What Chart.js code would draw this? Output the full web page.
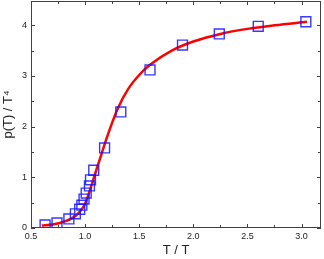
<!DOCTYPE html>
<html>
<head>
<meta charset="utf-8">
<script src="https://cdn.jsdelivr.net/npm/chart.js@4"></script>
<style>
  html, body { margin: 0; padding: 0; background: #fff; }
  #wrap { width: 324px; height: 259px; }
</style>
</head>
<body>
<div id="wrap"><canvas id="chart" width="324" height="259"></canvas></div>
<script>
// lattice points (squares)
const pointT = [0.63, 0.74, 0.85, 0.91, 0.95, 0.97, 0.99, 1.01, 1.04, 1.05, 1.08, 1.18, 1.33, 1.60, 1.90, 2.24, 2.60, 3.04];
const pointP = [0.06, 0.10, 0.18, 0.28, 0.37, 0.45, 0.57, 0.69, 0.83, 0.95, 1.14, 1.58, 2.29, 3.12, 3.61, 3.83, 3.98, 4.07];

// fitted curve (red)
const curveT = [0.6, 0.7, 0.8, 0.9, 0.95, 1.0, 1.05, 1.1, 1.15, 1.2, 1.3, 1.4, 1.5, 1.6, 1.8, 2.0, 2.25, 2.5, 2.75, 3.05];
const curveP = [0.05, 0.07, 0.12, 0.22, 0.32, 0.48, 0.78, 1.12, 1.45, 1.78, 2.35, 2.75, 3.02, 3.22, 3.5, 3.68, 3.83, 3.93, 4.0, 4.07];

const xMajor = [0.5, 1.0, 1.5, 2.0, 2.5, 3.0];
const xMinor = [0.75, 1.25, 1.75, 2.25, 2.75];
const yMajor = [0, 1, 2, 3, 4];
const yMinor = [0.5, 1.5, 2.5, 3.5];

// frame + inward ticks on all four sides
const frameTicks = {
  id: "frameTicks",
  afterDraw(chart) {
    const { ctx, chartArea: a, scales } = chart;
    const x = scales.x, y = scales.y;
    ctx.save();
    ctx.strokeStyle = "#404040";
    ctx.lineWidth = 1;
    ctx.strokeRect(a.left + 0.5, a.top + 0.5, a.right - a.left - 1, a.bottom - a.top - 1);
    ctx.beginPath();
    const xt = (v, len) => {
      const px = Math.round(x.getPixelForValue(v)) + 0.5;
      ctx.moveTo(px, a.bottom); ctx.lineTo(px, a.bottom - len);
      ctx.moveTo(px, a.top); ctx.lineTo(px, a.top + len);
    };
    const yt = (v, len) => {
      const py = Math.round(y.getPixelForValue(v)) + 0.5;
      ctx.moveTo(a.left, py); ctx.lineTo(a.left + len, py);
      ctx.moveTo(a.right, py); ctx.lineTo(a.right - len, py);
    };
    xMajor.forEach((v) => xt(v, 4));
    xMinor.forEach((v) => xt(v, 3));
    yMajor.forEach((v) => yt(v, 4));
    yMinor.forEach((v) => yt(v, 3));
    ctx.stroke();
    ctx.restore();
  },
};

Chart.defaults.font.family = "'Liberation Sans', Arial, sans-serif";
Chart.defaults.color = "#222";

new Chart(document.getElementById("chart"), {
  type: "scatter",
  data: {
    datasets: [
      {
        label: "fit",
        type: "line",
        data: curveT.map((t, i) => ({ x: t, y: curveP[i] })),
        borderColor: "rgb(255, 0, 0)",
        borderWidth: 2.5,
        pointRadius: 0,
        cubicInterpolationMode: "monotone",
        fill: false,
        order: 2,
      },
      {
        label: "lattice",
        data: pointT.map((t, i) => ({ x: t, y: pointP[i] })),
        pointStyle: "rect",
        pointRadius: 7,
        pointBorderWidth: 1.4,
        pointBorderColor: "rgba(20, 20, 255, 0.85)",
        pointBackgroundColor: "rgba(0, 0, 0, 0)",
        order: 1,
      },
    ],
  },
  options: {
    responsive: false,
    animation: false,
    layout: { autoPadding: false, padding: { left: 0, right: 3, top: 1, bottom: 0 } },
    plugins: {
      legend: { display: false },
      tooltip: { enabled: false },
    },
    scales: {
      x: {
        type: "linear",
        min: 0.5,
        max: 3.18,
        afterBuildTicks: (s) => { s.ticks = xMajor.map((v) => ({ value: v })); },
        afterFit: (s) => { s.height = 31; s.paddingLeft = 0; s.paddingRight = 0; },
        grid: { display: false, drawTicks: false },
        border: { display: false },
        ticks: {
          padding: 3,
          font: { size: 9 },
          callback: (v) => v.toFixed(1),
        },
        title: {
          display: true,
          text: "T / T",
          font: { size: 13 },
          padding: { top: 0, bottom: 1 },
        },
      },
      y: {
        type: "linear",
        min: 0,
        max: 4.48,
        afterBuildTicks: (s) => { s.ticks = yMajor.map((v) => ({ value: v })); },
        afterFit: (s) => { s.width = 31; s.paddingTop = 0; s.paddingBottom = 0; },
        grid: { display: false, drawTicks: false },
        border: { display: false },
        ticks: {
          padding: 4,
          font: { size: 9 },
          callback: (v) => String(v),
        },
        title: {
          display: true,
          text: "p(T) / T\u2074",
          font: { size: 13 },
          padding: { top: 1, bottom: 0 },
        },
      },
    },
  },
  plugins: [frameTicks],
});
</script>
</body>
</html>
